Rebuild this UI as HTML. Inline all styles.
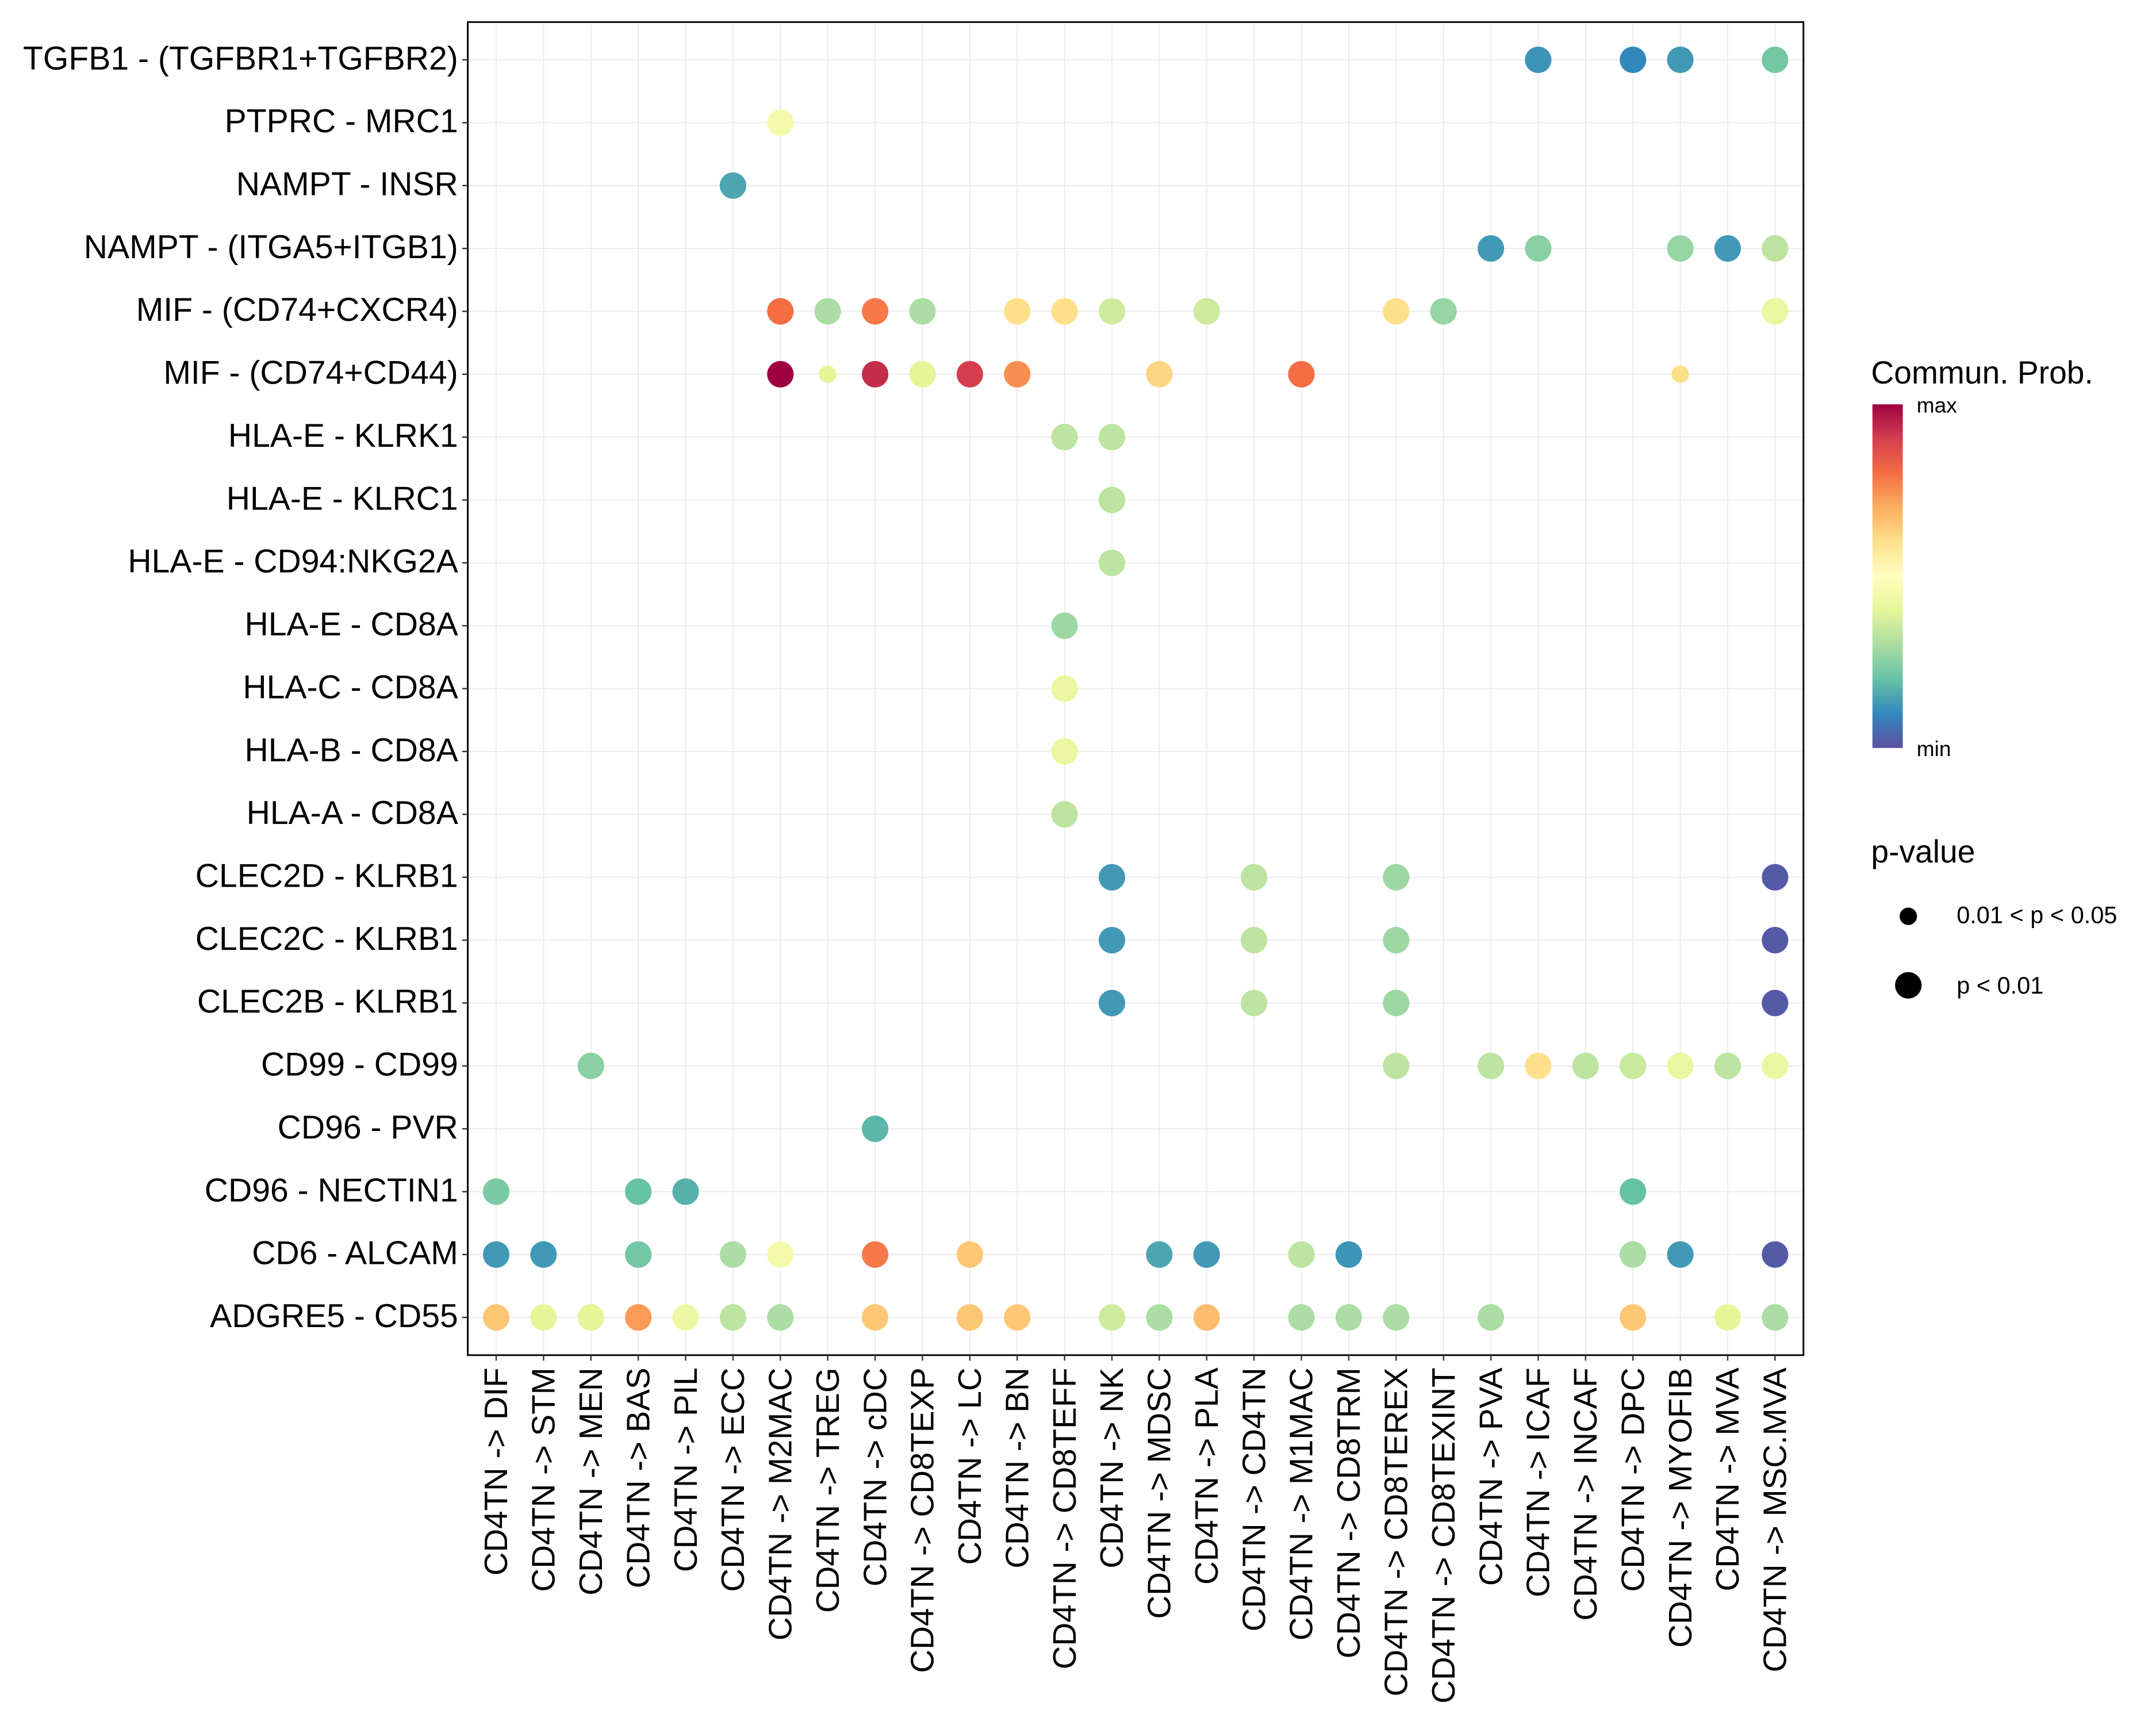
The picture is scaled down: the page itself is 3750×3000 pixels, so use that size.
<!DOCTYPE html>
<html><head><meta charset="utf-8"><style>
html,body{margin:0;padding:0;background:#fff;}
svg{display:block;font-family:"Liberation Sans",sans-serif;}
</style></head><body>
<svg id="chart" width="3750" height="3000" viewBox="0 0 1562.5 1250" xmlns="http://www.w3.org/2000/svg">
<defs>
<linearGradient id="cb" x1="0" y1="1" x2="0" y2="0">
<stop offset="0" stop-color="#5E4FA2"/><stop offset="0.1" stop-color="#3288BD"/><stop offset="0.2" stop-color="#66C2A5"/><stop offset="0.3" stop-color="#ABDDA4"/><stop offset="0.4" stop-color="#E6F598"/><stop offset="0.5" stop-color="#FFFFBF"/><stop offset="0.6" stop-color="#FEE08B"/><stop offset="0.7" stop-color="#FDAE61"/><stop offset="0.8" stop-color="#F46D43"/><stop offset="0.9" stop-color="#D53E4F"/><stop offset="1" stop-color="#9E0142"/>
</linearGradient>
</defs>
<g id="grid"></g>
<g id="dots"></g>
<rect x="339" y="16" width="968" height="966" fill="none" stroke="#000" stroke-width="1.2"/>
<g id="ylab"></g>
<g id="xlab"></g>
<g>
<text x="1356" y="278" font-size="23">Commun. Prob.</text>
<rect x="1357" y="293" width="22" height="249" fill="url(#cb)"/>
<text x="1389" y="299" font-size="15.5">max</text>
<text x="1389" y="548" font-size="15.5">min</text>
</g>
<g>
<text x="1356" y="625" font-size="23">p-value</text>
<circle cx="1383" cy="664" r="6.3" fill="#000"/>
<text x="1418" y="669" font-size="17.3">0.01 &lt; p &lt; 0.05</text>
<circle cx="1383" cy="714" r="9.6" fill="#000"/>
<text x="1418" y="720" font-size="17.3">p &lt; 0.01</text>
</g>
</svg>
<script>
const targets = ["DIF","STM","MEN","BAS","PIL","ECC","M2MAC","TREG","cDC","CD8TEXP","LC","BN","CD8TEFF","NK","MDSC","PLA","CD4TN","M1MAC","CD8TRM","CD8TEREX","CD8TEXINT","PVA","ICAF","INCAF","DPC","MYOFIB","MVA","MSC.MVA"];
const pairs = ["TGFB1 - (TGFBR1+TGFBR2)","PTPRC - MRC1","NAMPT - INSR","NAMPT - (ITGA5+ITGB1)","MIF - (CD74+CXCR4)","MIF - (CD74+CD44)","HLA-E - KLRK1","HLA-E - KLRC1","HLA-E - CD94:NKG2A","HLA-E - CD8A","HLA-C - CD8A","HLA-B - CD8A","HLA-A - CD8A","CLEC2D - KLRB1","CLEC2C - KLRB1","CLEC2B - KLRB1","CD99 - CD99","CD96 - PVR","CD96 - NECTIN1","CD6 - ALCAM","ADGRE5 - CD55"];
const dotRows = [0,0,0,0,1,2,3,3,3,3,3,4,4,4,4,4,4,4,4,4,4,4,5,5,5,5,5,5,5,5,5,6,6,7,8,9,10,11,12,13,13,13,13,14,14,14,14,15,15,15,15,16,16,16,16,16,16,16,16,16,17,18,18,18,18,19,19,19,19,19,19,19,19,19,19,19,19,19,19,20,20,20,20,20,20,20,20,20,20,20,20,20,20,20,20,20,20,20,20];
const dotCols = [22,24,25,27,6,5,21,22,25,26,27,6,7,8,9,11,12,13,15,19,20,27,6,7,8,9,10,11,14,17,25,12,13,13,13,12,12,12,12,13,16,19,27,13,16,19,27,13,16,19,27,2,19,21,22,23,24,25,26,27,8,0,3,4,24,0,1,3,5,6,8,10,14,15,17,18,24,25,27,0,1,2,3,4,5,6,8,10,11,13,14,15,17,18,19,21,24,26,27];
const dotProb = [0.12,0.1,0.13,0.22,0.45,0.15,0.13,0.25,0.27,0.13,0.33,0.8,0.3,0.78,0.3,0.6,0.6,0.36,0.36,0.6,0.27,0.42,1.0,0.4,0.93,0.4,0.9,0.75,0.62,0.8,0.6,0.33,0.33,0.33,0.33,0.28,0.42,0.42,0.33,0.13,0.33,0.28,0.02,0.13,0.33,0.28,0.02,0.13,0.33,0.28,0.02,0.25,0.33,0.33,0.6,0.33,0.35,0.42,0.33,0.42,0.18,0.23,0.2,0.17,0.2,0.13,0.13,0.22,0.3,0.45,0.78,0.65,0.15,0.13,0.33,0.12,0.3,0.13,0.02,0.65,0.4,0.4,0.73,0.43,0.33,0.3,0.65,0.65,0.65,0.36,0.3,0.67,0.3,0.3,0.3,0.3,0.65,0.4,0.3];
const dotSig = dotRows.map((r,i)=> (r===5 && (dotCols[i]===7||dotCols[i]===25)) ? 0 : 1);

const NS="http://www.w3.org/2000/svg";
const X0=339,X1=1307,Y0=16,Y1=982;
function xPos(i){const w=(X1-X0)/(targets.length-1+1.2);return X0+w*(i+0.6);}
function yPos(i){const h=(Y1-Y0)/(pairs.length-1+1.2);return Y0+h*(i+0.6);}
const stops=["#5E4FA2","#3288BD","#66C2A5","#ABDDA4","#E6F598","#FFFFBF","#FEE08B","#FDAE61","#F46D43","#D53E4F","#9E0142"];
function hex(c){return [1,3,5].map(k=>parseInt(c.substr(k,2),16));}
function color(v){v=Math.max(0,Math.min(1,v));const t=v*10,i=Math.min(9,Math.floor(t)),f=t-i;const a=hex(stops[i]),b=hex(stops[i+1]);return "rgb("+a.map((x,k)=>Math.round(x+(b[k]-x)*f)).join(",")+")";}
function mk(tag,attrs,parent){const e=document.createElementNS(NS,tag);for(const k in attrs)e.setAttribute(k,attrs[k]);parent.appendChild(e);return e;}
const grid=document.getElementById("grid");
targets.forEach((t,i)=>{const l=mk("line",{x1:xPos(i),x2:xPos(i),y1:Y0,y2:Y1,stroke:"#ebebeb","stroke-width":0.8},grid);

});
pairs.forEach((p,i)=>{const l=mk("line",{x1:X0,x2:X1,y1:yPos(i),y2:yPos(i),stroke:"#ebebeb","stroke-width":0.8},grid);

});
const ylab=document.getElementById("ylab");
pairs.forEach((p,i)=>{mk("line",{x1:X0-4,x2:X0,y1:yPos(i),y2:yPos(i),stroke:"#333"},ylab);
const t=mk("text",{x:X0-7,y:yPos(i)+7,"text-anchor":"end","font-size":"23.8"},ylab);t.textContent=p;

});
const xlab=document.getElementById("xlab");
targets.forEach((c,i)=>{mk("line",{x1:xPos(i),x2:xPos(i),y1:Y1,y2:Y1+4,stroke:"#333"},xlab);
const x=xPos(i)+8,y=Y1+9;
const t=mk("text",{x:x,y:y,"text-anchor":"end","font-size":"23.5",transform:"rotate(-90 "+x+" "+y+")"},xlab);t.textContent="CD4TN -> "+c;

});
const dots=document.getElementById("dots");
dotRows.forEach((r,i)=>{const c=mk("circle",{cx:xPos(dotCols[i]),cy:yPos(r),r:dotSig[i]?9.6:6.3,fill:color(dotProb[i])},dots);

});
</script>
</body></html>
